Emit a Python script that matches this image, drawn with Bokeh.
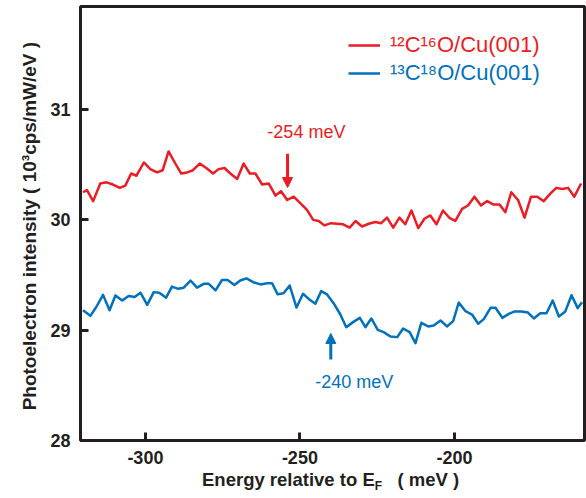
from bokeh.plotting import figure
from bokeh.models import (Range1d, FixedTicker, Arrow, NormalHead, Label,
                          Legend, LegendItem, Div)
from bokeh.layouts import column
from bokeh.embed import file_html
from bokeh.resources import INLINE

# ---------------- data ----------------
red_x = [-320.2, -318.9, -316.9, -314.6, -312.6, -310.5, -308.3, -306.5, -304.6, -302.9,
         -300.5, -298.4, -296.2, -294.4, -292.5, -290.5, -288.4, -286.5, -284.6, -282.4,
         -280.3, -278.1, -276.3, -274.4, -272.5, -270.3, -268.2, -266.2, -264.4, -262.2,
         -260.1, -257.9, -256.1, -254.1, -252.0, -249.8, -247.7, -245.7, -243.9, -242.1,
         -239.9, -238.0, -236.0, -233.9, -232.0, -229.9, -227.7, -225.6, -223.7, -221.8,
         -219.8, -217.8, -215.9, -213.9, -211.7, -209.7, -207.8, -205.8, -203.7, -201.5,
         -199.7, -197.5, -195.6, -193.5, -191.4, -189.4, -187.5, -185.4, -183.5, -181.6,
         -179.4, -177.3, -175.2, -173.2, -171.1, -168.9, -167.0, -165.1, -163.2, -161.2,
         -159.0]
red_y = [30.25, 30.27, 30.17, 30.33, 30.34, 30.32, 30.29, 30.31, 30.42, 30.40,
         30.52, 30.46, 30.43, 30.45, 30.62, 30.52, 30.42, 30.43, 30.45, 30.51,
         30.47, 30.42, 30.46, 30.47, 30.42, 30.37, 30.51, 30.42, 30.42, 30.32,
         30.33, 30.22, 30.26, 30.18, 30.21, 30.15, 30.09, 30.00, 29.99, 29.95,
         29.97, 29.965, 29.96, 29.93, 29.99, 29.94, 29.965, 29.98, 29.97, 30.02,
         29.93, 30.02, 29.96, 30.085, 29.925, 30.01, 30.04, 29.96, 30.085, 30.015,
         29.99, 30.10, 30.13, 30.21, 30.13, 30.17, 30.14, 30.14, 30.07, 30.25,
         30.18, 30.02, 30.21, 30.21, 30.17, 30.24, 30.29, 30.28, 30.29, 30.21,
         30.33]

blue_x = [-320.2, -317.8, -315.9, -313.7, -311.6, -309.7, -307.5, -305.4, -303.5, -301.6,
          -299.4, -297.3, -295.5, -293.3, -291.4, -289.4, -287.6, -285.4, -283.3, -281.1,
          -279.5, -277.3, -275.2, -273.4, -271.2, -269.3, -267.3, -265.1, -262.8, -260.6,
          -259.0, -257.2, -255.3, -253.3, -251.1, -249.0, -246.8, -245.0, -243.1, -241.2,
          -239.1, -236.9, -235.0, -232.8, -230.6, -228.8, -226.9, -224.8, -222.9, -220.7,
          -218.5, -216.6, -214.5, -212.6, -210.7, -208.5, -206.7, -204.5, -202.4, -200.4,
          -198.6, -196.4, -194.3, -192.3, -190.5, -188.3, -186.7, -184.5, -182.4, -180.5,
          -178.3, -176.2, -174.3, -172.2, -170.2, -168.2, -166.2, -164.1, -162.1, -160.1,
          -158.7]
blue_y = [29.18, 29.13, 29.21, 29.32, 29.18, 29.315, 29.27, 29.31, 29.30, 29.34,
          29.23, 29.345, 29.34, 29.295, 29.395, 29.375, 29.385, 29.45, 29.385, 29.42,
          29.42, 29.36, 29.455, 29.455, 29.41, 29.45, 29.47, 29.435, 29.415, 29.425,
          29.425, 29.325, 29.335, 29.405, 29.205, 29.33, 29.275, 29.24, 29.354, 29.324,
          29.245, 29.142, 29.027, 29.073, 29.112, 29.027, 29.106, 29.003, 28.982, 28.943,
          28.937, 29.015, 28.982, 28.882, 29.067, 29.034, 29.043, 29.088, 29.034, 29.082,
          29.251, 29.172, 29.142, 29.058, 29.100, 29.203, 29.203, 29.112, 29.148, 29.170,
          29.170, 29.160, 29.106, 29.154, 29.154, 29.269, 29.124, 29.170, 29.317, 29.200,
          29.254]

series_labels = ["\u00b9\u00b2C\u00b9\u2076O/Cu(001)", "\u00b9\u00b3C\u00b9\u2078O/Cu(001)"]
x_ticks = [-300, -250, -200]
y_ticks = [28, 29, 30, 31]

# annotations: marked energies, arrow tail/tip heights, text anchor
annot_x = [-254, -240]
annot_labels = ["-254 meV", "-240 meV"]
annot_tail_y = [30.60, 28.734]
annot_tip_y = [30.293, 28.97]
annot_text_x = [-247.9, -232.4]
annot_text_y = [30.80, 28.526]

RED = "#ed1c24"
BLUE = "#0071bc"
DARK = "#231f20"
FONT = "Liberation Sans"

p = figure(width=586, height=470, x_range=Range1d(-321.0, -157.9),
           y_range=Range1d(28, 31.934), output_backend="svg", toolbar_location=None,
           min_border_left=80, min_border_right=2, min_border_top=6, min_border_bottom=30)

p.xgrid.visible = False
p.ygrid.visible = False
p.outline_line_color = DARK
p.outline_line_width = 3
p.outline_line_alpha = 1.0

for ax in (p.xaxis[0], p.yaxis[0]):
    ax.axis_line_color = None
    ax.major_tick_in = 8
    ax.major_tick_out = 0
    ax.minor_tick_line_color = None
    ax.major_tick_line_width = 3
    ax.major_tick_line_color = DARK
    ax.major_label_text_font = FONT
    ax.major_label_text_font_style = "bold"
    ax.major_label_text_font_size = "18px"
    ax.major_label_text_color = DARK

p.xaxis.ticker = FixedTicker(ticks=x_ticks)
p.yaxis.ticker = FixedTicker(ticks=y_ticks)
p.xaxis.major_label_overrides = {t: str(t) for t in x_ticks}
p.yaxis.major_label_overrides = {t: str(t) for t in y_ticks}
p.xaxis.major_label_standoff = 10
p.yaxis.major_label_standoff = 10

p.yaxis.axis_label = "Photoelectron intensity  ( 10\u00b3cps/mW/eV )"
p.yaxis.axis_label_text_font = FONT
p.yaxis.axis_label_text_font_style = "bold"
p.yaxis.axis_label_text_font_size = "19px"
p.yaxis.axis_label_text_color = DARK
p.yaxis.axis_label_standoff = 7

r_red = p.line(red_x, red_y, line_color=RED, line_width=2.5, line_join="round")
r_blue = p.line(blue_x, blue_y, line_color=BLUE, line_width=2.5, line_join="round")

# legends (one per series so each label gets its own colour)
leg_pos = [(268, 382), (268, 354)]
for r, lab, col, pos in zip([r_red, r_blue], series_labels, [RED, BLUE], leg_pos):
    leg = Legend(items=[LegendItem(label=lab, renderers=[r])], location=pos,
                 border_line_color=None, background_fill_alpha=0, padding=0,
                 glyph_width=32, glyph_height=26, label_height=26, label_standoff=10,
                 label_text_font=FONT, label_text_font_size="22px", label_text_color=col,
                 spacing=0, margin=0)
    p.add_layout(leg)

# arrows and annotation texts
for ax_, tail, tip, tx, ty, lab, col in zip(annot_x, annot_tail_y, annot_tip_y,
                                            annot_text_x, annot_text_y, annot_labels,
                                            [RED, BLUE]):
    p.add_layout(Arrow(x_start=ax_, y_start=tail, x_end=ax_, y_end=tip,
                       line_color=col, line_width=3,
                       end=NormalHead(size=10, fill_color=col, line_color=col, line_width=1)))
    p.add_layout(Label(x=tx, y=ty, text=lab, text_align="center", text_baseline="middle",
                       text_font=FONT, text_font_size="18px", text_color=col))

# x axis title with subscript F
xlabel = Div(
    text=('Energy relative to E<span style="font-size:12px;position:relative;top:4px;">F</span>'
          '&nbsp;&nbsp;&nbsp;( meV )'),
    width=586, height=28, margin=0,
    styles={"font-family": FONT, "font-weight": "bold", "font-size": "18.5px",
            "color": DARK, "line-height": "20px", "padding-left": "202px",
            "white-space": "nowrap"})

open("out.html", "w").write(file_html(column(p, xlabel, spacing=0), INLINE))
